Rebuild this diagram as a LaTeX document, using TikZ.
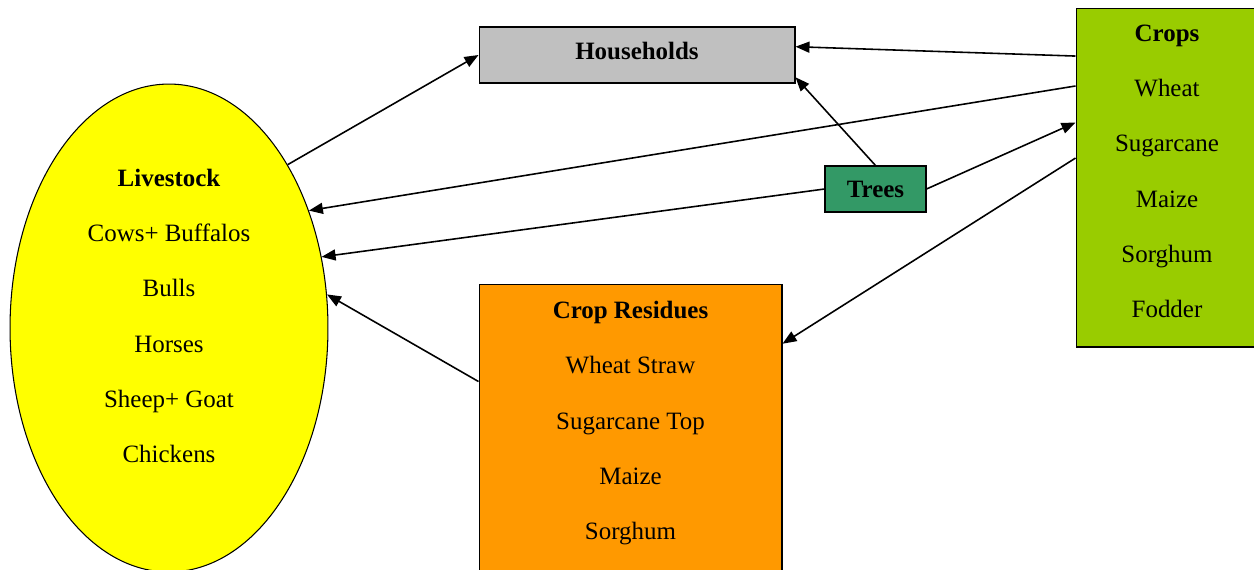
\documentclass[tikz,border=0pt]{standalone}
\usepackage{fontspec}
\setmainfont{Liberation Serif}
\usetikzlibrary{arrows.meta,shapes.geometric}
\definecolor{hhgray}{HTML}{C0C0C0}
\definecolor{cropgreen}{HTML}{99CC00}
\definecolor{treegreen}{HTML}{339966}
\definecolor{resorange}{HTML}{FF9900}
\definecolor{liveyellow}{HTML}{FFFF00}
\begin{document}
\begin{tikzpicture}[
    x=0.02cm, y=-0.02cm,
    font=\fontsize{14.2}{31.5}\selectfont,
    mybox/.style={rectangle, draw=black, line width=0.6pt, align=center, inner sep=0pt},
    myarrow/.style={-{Triangle[length=0.28cm,width=0.22cm]}, line width=0.9pt}
]
    \useasboundingbox (0,0) rectangle (1254,569);
    \clip (0,0) rectangle (1254,569);

    \node[mybox, ellipse, fill=liveyellow, minimum width=6.36cm, minimum height=9.76cm, text height=5.50cm, text depth=0.1cm] at (169,328) (live)
        {\textbf{Livestock}\\ Cows+ Buffalos\\ Bulls\\ Horses\\ Sheep+ Goat\\ Chickens};
    \node[mybox, fill=hhgray, minimum width=6.32cm, minimum height=1.12cm, text height=0.34cm, text depth=0.15cm] at (637,55) (hh) {\textbf{Households}};
    \node[mybox, fill=cropgreen, minimum width=3.64cm, minimum height=6.78cm, text height=5.72cm, text depth=0.1cm] at (1167,177.5) (crops)
        {\textbf{Crops}\\ Wheat\\ Sugarcane\\ Maize\\ Sorghum\\ Fodder};
    \node[mybox, fill=treegreen, minimum width=2.02cm, minimum height=0.92cm, text height=0.34cm, text depth=0cm] at (875.5,189) (trees) {\textbf{Trees}};
    \node[mybox, fill=resorange, minimum width=6.06cm, minimum height=5.76cm, text height=4.58cm, text depth=0.1cm] at (630.5,428) (res)
        {\textbf{Crop Residues}\\ Wheat Straw\\ Sugarcane Top\\ Maize\\ Sorghum};

    \draw[myarrow] (live.54) -- (hh.west);
    \draw[myarrow] (crops.127) -- (hh.3.6);
    \draw[myarrow] (trees.north) -- (hh.-8);
    \draw[myarrow, {Triangle[length=0.28cm,width=0.22cm]}-] (live.40) -- (crops.135);
    \draw[myarrow] (trees.east) -- (crops.149);
    \draw[myarrow] (trees.west) -- (live.25);
    \draw[myarrow] (crops.168) -- (res.29);
    \draw[myarrow] (res.163) -- (live.12);
\end{tikzpicture}
\end{document}
